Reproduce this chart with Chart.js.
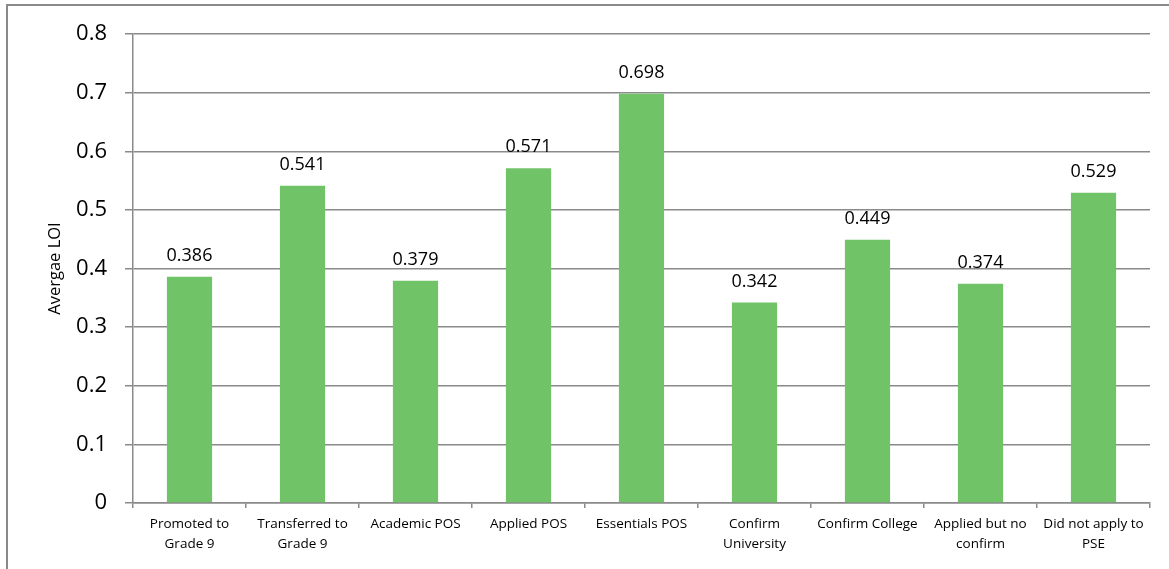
<!DOCTYPE html>
<html>
<head>
<meta charset="utf-8">
<script src="https://cdn.jsdelivr.net/npm/chart.js@4.4.1/dist/chart.umd.min.js"></script>
<style>
  html, body { margin: 0; padding: 0; background: #fff; overflow: hidden; }
  #frame { position: absolute; left: 6px; top: 4px; width: 1200px; height: 600px; border-top: 2px solid #8a8a8a; border-left: 2px solid #8a8a8a; }
  #wrap { position: absolute; left: 0; top: 0; width: 1169px; height: 569px; }
</style>
</head>
<body>
<div id="frame"></div>
<div id="wrap"><canvas id="c" width="1169" height="569"></canvas></div>
<script>
const categories = [
  ["Promoted to", "Grade 9"],
  ["Transferred to", "Grade 9"],
  ["Academic POS"],
  ["Applied POS"],
  ["Essentials POS"],
  ["Confirm", "University"],
  ["Confirm College"],
  ["Applied but no", "confirm"],
  ["Did not apply to", "PSE"]
];
const avgLOI = [0.386, 0.541, 0.379, 0.571, 0.698, 0.342, 0.449, 0.374, 0.529];
const yTicks = [0, 0.1, 0.2, 0.3, 0.4, 0.5, 0.6, 0.7, 0.8];
const yTitle = "Avergae LOI";

const FONT = "'Open Sans', 'DejaVu Sans', sans-serif";
const GRID = "#8a8a8a";

const valueLabels = {
  id: 'valueLabels',
  afterDatasetsDraw(chart) {
    const ctx = chart.ctx;
    const meta = chart.getDatasetMeta(0);
    ctx.save();
    ctx.font = "18px " + FONT;
    ctx.fillStyle = "#000";
    ctx.textAlign = "center";
    ctx.textBaseline = "alphabetic";
    meta.data.forEach((bar, i) => {
      const v = chart.data.datasets[0].data[i];
      ctx.fillText(v.toFixed(3), bar.x, bar.y - 16);
    });
    ctx.restore();
  }
};

new Chart(document.getElementById('c'), {
  type: 'bar',
  data: {
    labels: categories,
    datasets: [{
      data: avgLOI,
      backgroundColor: '#71C368',
      borderWidth: 0,
      barPercentage: 0.4,
      categoryPercentage: 1.0
    }]
  },
  options: {
    responsive: false,
    animation: false,
    devicePixelRatio: 1,
    layout: { padding: { left: 0, top: 34, right: 19, bottom: 0 } },
    plugins: { legend: { display: false }, tooltip: { enabled: false } },
    scales: {
      x: {
        grid: { drawOnChartArea: false, offset: true, tickLength: 5, color: GRID, lineWidth: 1.5 },
        border: { color: GRID, width: 1.5 },
        ticks: {
          color: '#000', padding: 6, maxRotation: 0, autoSkip: false,
          font: { family: FONT, size: 13.5, lineHeight: '20px' }
        },
        afterFit(s) { s.height = 66; }
      },
      y: {
        min: 0, max: 0.8,
        afterBuildTicks(s) { s.ticks = yTicks.map(v => ({ value: v })); },
        grid: { color: GRID, lineWidth: 1.5, tickLength: 8 },
        border: { color: GRID, width: 1.5 },
        ticks: {
          color: '#000', padding: 18,
          font: { family: FONT, size: 22 },
          callback: (v) => String(Math.round(v * 10) / 10)
        },
        title: {
          display: true, text: yTitle, color: '#000',
          font: { family: FONT, size: 16.5 },
          padding: { top: 45, bottom: 0 }
        },
        afterFit(s) { s.width = 133; }
      }
    }
  },
  plugins: [valueLabels]
});
</script>
</body>
</html>
